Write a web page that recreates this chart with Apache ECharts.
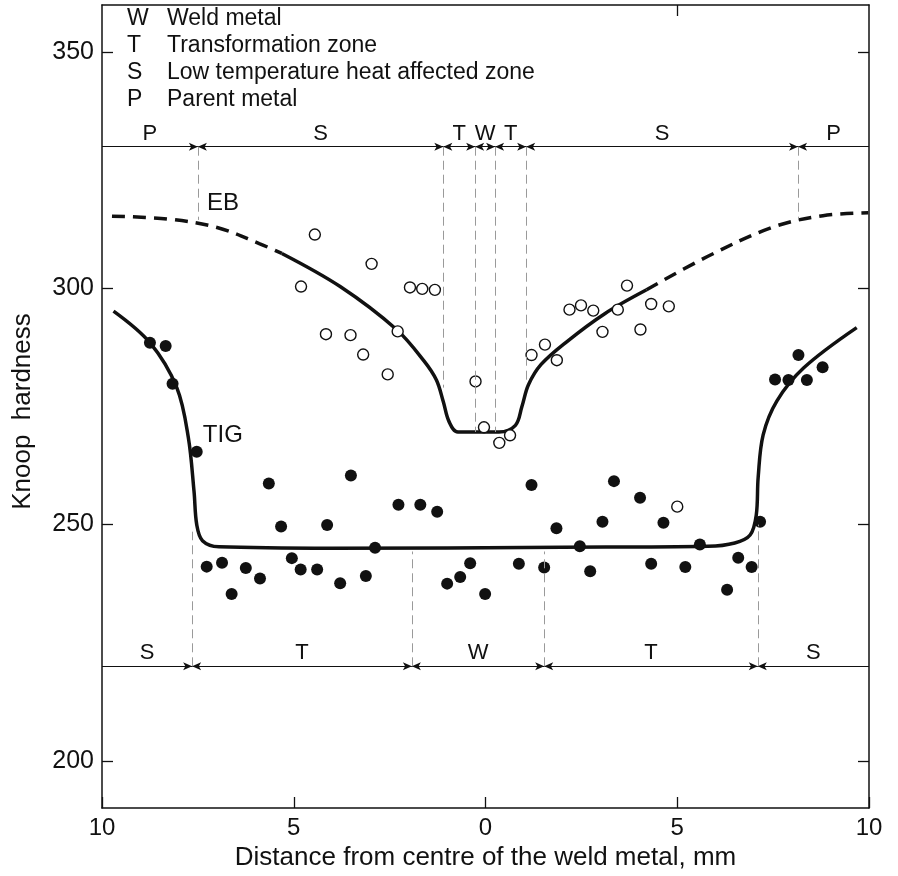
<!DOCTYPE html>
<html>
<head>
<meta charset="utf-8">
<script src="https://cdn.jsdelivr.net/npm/echarts@6/dist/echarts.min.js"></script>
<style>
  html, body { margin: 0; padding: 0; background: #fff; }
  #chart { width: 898px; height: 876px; }
</style>
</head>
<body>
<div id="chart"></div>
<script>
// axes
var xTicks = [-10, -5, 0, 5, 10];
var xTopTicks = [5];
var yTicks = [200, 250, 300, 350];

// EB measurements (open circles)
var ebPoints = [
    [-4.45, 311.4], [-2.97, 305.2], [-4.81, 300.4], [-1.97, 300.2], [-1.65, 299.9], [-1.32, 299.7],
    [-4.16, 290.3], [-3.52, 290.1], [-3.19, 286.0], [-2.29, 290.9], [-2.55, 281.8],
    [-0.26, 280.3], [-0.04, 270.6], [0.36, 267.3], [0.64, 268.9],
    [1.20, 285.9], [1.55, 288.1], [1.86, 284.8], [2.19, 295.5], [2.49, 296.4], [2.81, 295.3],
    [3.05, 290.8], [3.45, 295.5], [3.69, 300.6], [4.04, 291.3], [4.32, 296.7], [4.78, 296.2],
    [5.00, 253.8]
];

// TIG measurements (filled dots)
var tigPoints = [
    [-8.75, 288.5], [-8.34, 287.8], [-8.16, 279.8], [-7.53, 265.4],
    [-5.65, 258.7], [-3.51, 260.4], [-5.33, 249.6], [-4.13, 249.9], [-2.27, 254.2], [-1.70, 254.2], [-1.26, 252.7],
    [-2.88, 245.1], [-7.27, 241.1], [-6.87, 241.9], [-6.62, 235.3], [-6.25, 240.8], [-5.88, 238.6],
    [-5.05, 242.9], [-4.82, 240.5], [-4.39, 240.5], [-3.79, 237.6], [-3.12, 239.1],
    [-1.00, 237.5], [-0.66, 238.9], [-0.40, 241.8], [-0.01, 235.3],
    [1.20, 258.4], [0.87, 241.7], [1.53, 240.9], [1.85, 249.2], [2.46, 245.4], [2.73, 240.1],
    [3.05, 250.6], [3.35, 259.2], [4.03, 255.7], [4.64, 250.4], [4.32, 241.7], [5.21, 241.0],
    [5.59, 245.8], [6.30, 236.2], [6.59, 243.0], [6.94, 241.0], [7.16, 250.6],
    [8.16, 285.9], [8.79, 283.3], [7.55, 280.7], [7.90, 280.6], [8.38, 280.6]
];

// fitted curves
var ebCurveLeft = [[-9.74, 315.3], [-8.3, 314.7], [-7.0, 312.9], [-5.9, 309.5], [-5.31, 307.4]];
var ebCurveMid = [
    [-5.31, 307.4], [-3.79, 300.4], [-2.32, 291.3], [-1.6, 284.6], [-1.28, 280.6], [-1.1, 276.0],
    [-0.95, 271.8], [-0.72, 269.6], [0.35, 269.6], [0.78, 271.0], [0.95, 275.0], [1.12, 279.6],
    [1.45, 283.9], [2.1, 288.6], [3.1, 294.6], [4.2, 299.7]
];
var ebCurveRight = [[4.2, 299.7], [5.8, 306.8], [7.5, 313.0], [8.8, 315.4], [9.98, 316.0]];
var tigCurve = [
    [-9.70, 295.2], [-8.75, 288.5], [-8.05, 279.0], [-7.75, 268.5], [-7.6, 257.0], [-7.53, 250.0],
    [-7.38, 246.6], [-6.95, 245.3], [-4.0, 245.0], [2.0, 245.2], [5.8, 245.4], [6.5, 246.1],
    [6.9, 247.8], [7.06, 252.0], [7.11, 260.0], [7.24, 269.0], [7.6, 276.2], [8.3, 283.2], [9.68, 291.7]
];

// zones
var topZones = ['P', 'S', 'T', 'W', 'T', 'S', 'P'];
var topBounds = [-10, -7.5, -1.1, -0.27, 0.25, 1.06, 8.15, 10];
var topGuideEnds = [314.5, 279, 269.6, 269.6, 280, 314.5];
var topZoneY = 330;
var bottomZones = ['S', 'T', 'W', 'T', 'S'];
var bottomBounds = [-10, -7.65, -1.92, 1.53, 7.1, 10];
var bottomGuideEnds = [248.5, 244.3, 244.3, 250];
var bottomZoneY = 220;

var curveLabels = [['EB', -7.26, 317.9], ['TIG', -7.37, 268.8]];

var legendKeys = ['W', 'T', 'S', 'P'];
var legendTexts = ['Weld metal', 'Transformation zone', 'Low temperature heat affected zone', 'Parent metal'];

var FONT = "'Liberation Sans', Arial, Helvetica, sans-serif";
var INK = '#111';

function zoneSegments(bounds, y) {
    var out = [];
    for (var i = 0; i < bounds.length - 1; i++) {
        out.push([
            { coord: [bounds[i], y], symbol: i === 0 ? 'none' : 'arrow' },
            { coord: [bounds[i + 1], y], symbol: i === bounds.length - 2 ? 'none' : 'arrow' }
        ]);
    }
    return out;
}
function guideLines(bounds, y, ends) {
    var out = [];
    for (var i = 1; i < bounds.length - 1; i++) {
        out.push([{ coord: [bounds[i], y] }, { coord: [bounds[i], ends[i - 1]] }]);
    }
    return out;
}
function zoneLabels(names, bounds, y) {
    return names.map(function (n, i) {
        return { value: [(bounds[i] + bounds[i + 1]) / 2, y], name: n };
    });
}

var chart = echarts.init(document.getElementById('chart'));

var axisCommon = {
    axisLine: { show: true, onZero: false, lineStyle: { color: INK, width: 1.5 } },
    axisTick: { show: true, inside: true, length: 11, lineStyle: { color: INK, width: 1.3 } },
    splitLine: { show: false }
};

// legend block, top left
var legendGraphics = [];
legendKeys.forEach(function (k, i) {
    legendGraphics.push({ type: 'text', left: 127, top: 7 + i * 27,
        style: { text: k, font: '23px ' + FONT, fill: INK } });
    legendGraphics.push({ type: 'text', left: 167, top: 7 + i * 27,
        style: { text: legendTexts[i], font: '23px ' + FONT, fill: INK } });
});

var zoneLabelStyle = { show: true, formatter: '{b}', fontFamily: FONT, fontSize: 22, color: INK };

var option = {
    backgroundColor: '#fff',
    animation: false,
    grid: { left: 102, right: 29, top: 5, bottom: 63 },
    graphic: legendGraphics,
    xAxis: [
        Object.assign({}, axisCommon, {
            type: 'value', min: -10, max: 10, interval: 5, position: 'bottom',
            name: 'Distance from centre of the weld metal, mm', nameLocation: 'middle', nameGap: 37,
            nameTextStyle: { fontFamily: FONT, fontSize: 26, color: INK },
            axisLabel: { margin: 8, fontFamily: FONT, fontSize: 24, color: INK,
                formatter: function (v) { return String(Math.abs(v)); } }
        }),
        Object.assign({}, axisCommon, {
            type: 'value', min: -10, max: 10, interval: 5, position: 'top',
            axisTick: Object.assign({}, axisCommon.axisTick, { customValues: xTopTicks }),
            axisLabel: { show: false }
        })
    ],
    yAxis: [
        Object.assign({}, axisCommon, {
            type: 'value', min: 190, max: 360, position: 'left',
            axisTick: Object.assign({}, axisCommon.axisTick, { customValues: yTicks }),
            name: 'Knoop  hardness', nameLocation: 'middle', nameGap: 66,
            nameTextStyle: { fontFamily: FONT, fontSize: 26, color: INK, padding: [0, 10, 0, 0] },
            axisLabel: { margin: 8, fontFamily: FONT, fontSize: 25, color: INK, customValues: yTicks }
        }),
        Object.assign({}, axisCommon, {
            type: 'value', min: 190, max: 360, position: 'right',
            axisTick: Object.assign({}, axisCommon.axisTick, { customValues: yTicks }),
            axisLabel: { show: false }
        })
    ],
    series: [
        {
            name: 'zones top', type: 'scatter', symbolSize: 0, silent: true,
            itemStyle: { opacity: 1 },
            data: zoneLabels(topZones, topBounds, topZoneY),
            label: Object.assign({ position: 'top', distance: 2 }, zoneLabelStyle),
            markLine: {
                silent: true, symbolSize: [6, 9], label: { show: false },
                lineStyle: { color: INK, width: 1, type: 'solid' },
                data: zoneSegments(topBounds, topZoneY)
            }
        },
        {
            name: 'zones bottom', type: 'scatter', symbolSize: 0, silent: true,
            itemStyle: { opacity: 1 },
            data: zoneLabels(bottomZones, bottomBounds, bottomZoneY),
            label: Object.assign({ position: 'top', distance: 2 }, zoneLabelStyle),
            markLine: {
                silent: true, symbolSize: [6, 9], label: { show: false },
                lineStyle: { color: INK, width: 1, type: 'solid' },
                data: zoneSegments(bottomBounds, bottomZoneY)
            }
        },
        {
            name: 'guides', type: 'scatter', symbolSize: 0, silent: true, data: [],
            markLine: {
                silent: true, symbol: 'none', label: { show: false },
                lineStyle: { color: '#9a9a9a', width: 1, type: [9, 5] },
                data: guideLines(topBounds, topZoneY, topGuideEnds)
                    .concat(guideLines(bottomBounds, bottomZoneY, bottomGuideEnds))
            }
        },
        {
            name: 'EB', type: 'line', data: ebCurveLeft, showSymbol: false, smooth: 0.35,
            lineStyle: { color: INK, width: 3.5, type: [13, 8] }, z: 3
        },
        {
            name: 'EB', type: 'line', data: ebCurveMid, showSymbol: false, smooth: 0.35,
            lineStyle: { color: INK, width: 3.5 }, z: 3
        },
        {
            name: 'EB', type: 'line', data: ebCurveRight, showSymbol: false, smooth: 0.35,
            lineStyle: { color: INK, width: 3.5, type: [13, 8] }, z: 3
        },
        {
            name: 'TIG', type: 'line', data: tigCurve, showSymbol: false, smooth: 0.35,
            lineStyle: { color: INK, width: 3.5 }, z: 3
        },
        {
            name: 'EB points', type: 'scatter', data: ebPoints, symbol: 'circle', symbolSize: 11, z: 4,
            itemStyle: { color: '#fff', borderColor: INK, borderWidth: 1.4, opacity: 1 }
        },
        {
            name: 'TIG points', type: 'scatter', data: tigPoints, symbol: 'circle', symbolSize: 12, z: 4,
            itemStyle: { color: INK, opacity: 1 }
        },
        {
            name: 'curve labels', type: 'scatter', symbolSize: 0, silent: true,
            itemStyle: { opacity: 1 },
            data: curveLabels.map(function (c) { return { value: [c[1], c[2]], name: c[0] }; }),
            label: { show: true, position: 'right', distance: 0, formatter: '{b}',
                fontFamily: FONT, fontSize: 24, color: INK }
        }
    ]
};
chart.setOption(option);
</script>
</body>
</html>
